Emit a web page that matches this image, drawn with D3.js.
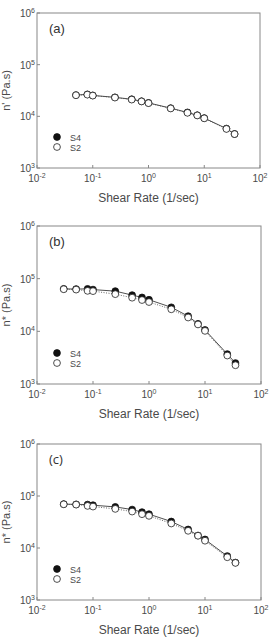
<!DOCTYPE html>
<html>
<head>
<meta charset="utf-8">
<script src="https://cdn.jsdelivr.net/npm/d3@7"></script>
<style>
  body { margin: 0; background: #fff; }
  text { font-family: "Liberation Sans", Arial, sans-serif; fill: #4a4a4a; }
</style>
</head>
<body>
<svg width="275" height="640"></svg>
<script>
// shear rate values (1/sec)
var rateA = [0.05, 0.08, 0.1, 0.25, 0.5, 0.75, 1, 2.5, 5, 7.5, 10, 25, 35];
var rateBC = [0.03, 0.05, 0.08, 0.1, 0.25, 0.5, 0.75, 1, 2.5, 5, 7.5, 10, 25, 35];

// viscosity (Pa.s)
var a_S4 = [25800, 26600, 25400, 23300, 21400, 19600, 18200, 14400, 11900, 10500, 9250, 5800, 4550];
var a_S2 = [25600, 26300, 25200, 23100, 21100, 19400, 18000, 14200, 11700, 10400, 9150, 5700, 4530];
var b_S4 = [64000, 63500, 64000, 62000, 58000, 48700, 44000, 39800, 28600, 19400, 13900, 10600, 3700, 2500];
var b_S2 = [63000, 62000, 58700, 58000, 50800, 43500, 39300, 36000, 26200, 18300, 13500, 10200, 3470, 2270];
var c_S4 = [69800, 69000, 68500, 66500, 61700, 54800, 48900, 44700, 32300, 22700, 17400, 14600, 7000, 5250];
var c_S2 = [69300, 68300, 64500, 62600, 56500, 50200, 44700, 41500, 29600, 21400, 17200, 13800, 6640, 5170];

var xTicks = [-2, -1, 0, 1, 2];
var yTicks = [3, 4, 5, 6];

var panels = [
  { label: '(a)', ylab: "n' (Pa.s)", rate: rateA, s4: a_S4, s2: a_S2, top: 13, bottom: 168, left: 37, right: 260, lblFont: 'Liberation Sans' },
  { label: '(b)', ylab: 'n* (Pa.s)', rate: rateBC, s4: b_S4, s2: b_S2, top: 226, bottom: 384, left: 37, right: 261, lblFont: 'Liberation Sans' },
  { label: '(c)', ylab: 'n* (Pa.s)', rate: rateBC, s4: c_S4, s2: c_S2, top: 444, bottom: 600, left: 37, right: 261, lblFont: 'Open Sans' }
];

var svg = d3.select('svg');
var R = 3.4;

panels.forEach(function (p) {
  var x = d3.scaleLog().domain([0.01, 100]).range([p.left, p.right]);
  var y = d3.scaleLog().domain([1000, 1e6]).range([p.bottom, p.top]);
  var g = svg.append('g');

  g.append('rect')
    .attr('x', p.left).attr('y', p.top)
    .attr('width', p.right - p.left).attr('height', p.bottom - p.top)
    .attr('fill', 'none').attr('stroke', '#888').attr('stroke-width', 1);

  // inward ticks
  g.selectAll('.xt').data(xTicks).enter().append('line')
    .attr('x1', (d) => x(Math.pow(10, d))).attr('x2', (d) => x(Math.pow(10, d)))
    .attr('y1', p.bottom).attr('y2', p.bottom - 3)
    .attr('stroke', '#888');
  g.selectAll('.yt').data(yTicks).enter().append('line')
    .attr('x1', p.left).attr('x2', p.left + 3)
    .attr('y1', (d) => y(Math.pow(10, d))).attr('y2', (d) => y(Math.pow(10, d)))
    .attr('stroke', '#888');

  // tick labels
  var xl = g.selectAll('.xl').data(xTicks).enter().append('text')
    .attr('x', (d) => x(Math.pow(10, d)))
    .attr('y', p.bottom + 14)
    .attr('text-anchor', 'middle')
    .style('font-size', '10px');
  xl.append('tspan').text('10');
  xl.append('tspan').attr('dy', -4).style('font-size', '7px').text((d) => d);

  var yl = g.selectAll('.yl').data(yTicks).enter().append('text')
    .attr('x', p.left - 2)
    .attr('y', (d) => y(Math.pow(10, d)) + 4)
    .attr('text-anchor', 'end')
    .style('font-size', '10px');
  yl.append('tspan').text('10');
  yl.append('tspan').attr('dy', -4).style('font-size', '7px').text((d) => d);

  // axis titles
  g.append('text')
    .attr('x', (p.left + p.right) / 2)
    .attr('y', p.bottom + 34)
    .attr('text-anchor', 'middle')
    .style('font-size', '12px')
    .text('Shear Rate (1/sec)');
  g.append('text')
    .attr('transform', 'translate(10,' + (p.top + p.bottom) / 2 + ') rotate(-90)')
    .attr('text-anchor', 'middle')
    .style('font-size', '11px')
    .text(p.ylab);

  g.append('text')
    .attr('x', p.left + 12)
    .attr('y', p.top + 20)
    .style('font-size', '13px')
    .style('font-family', p.lblFont)
    .style('fill', '#333')
    .text(p.label);

  var line = d3.line().x((d) => x(d[0])).y((d) => y(d[1]));
  var d4 = p.rate.map((r, i) => [r, p.s4[i]]);
  var d2 = p.rate.map((r, i) => [r, p.s2[i]]);

  g.append('path').datum(d4).attr('d', line)
    .attr('fill', 'none').attr('stroke', '#222').attr('stroke-width', 0.8);
  g.append('path').datum(d2).attr('d', line)
    .attr('fill', 'none').attr('stroke', '#444').attr('stroke-width', 0.8)
    .attr('stroke-dasharray', '1,1.5');

  g.selectAll('.s4').data(d4).enter().append('circle')
    .attr('cx', (d) => x(d[0])).attr('cy', (d) => y(d[1])).attr('r', R)
    .attr('fill', '#111').attr('stroke', '#111').attr('stroke-width', 0.8);
  g.selectAll('.s2').data(d2).enter().append('circle')
    .attr('cx', (d) => x(d[0])).attr('cy', (d) => y(d[1])).attr('r', R)
    .attr('fill', '#fff').attr('stroke', '#222').attr('stroke-width', 0.8);

  // legend
  var ly = p.bottom - 31;
  g.append('circle').attr('cx', p.left + 20).attr('cy', ly).attr('r', R)
    .attr('fill', '#111').attr('stroke', '#111').attr('stroke-width', 0.8);
  g.append('circle').attr('cx', p.left + 20).attr('cy', ly + 10).attr('r', R)
    .attr('fill', '#fff').attr('stroke', '#222').attr('stroke-width', 0.8);
  g.append('text').attr('x', p.left + 33).attr('y', ly + 3.5)
    .style('font-size', '9px').text('S4');
  g.append('text').attr('x', p.left + 33).attr('y', ly + 13.5)
    .style('font-size', '9px').text('S2');
});
</script>
</body>
</html>
